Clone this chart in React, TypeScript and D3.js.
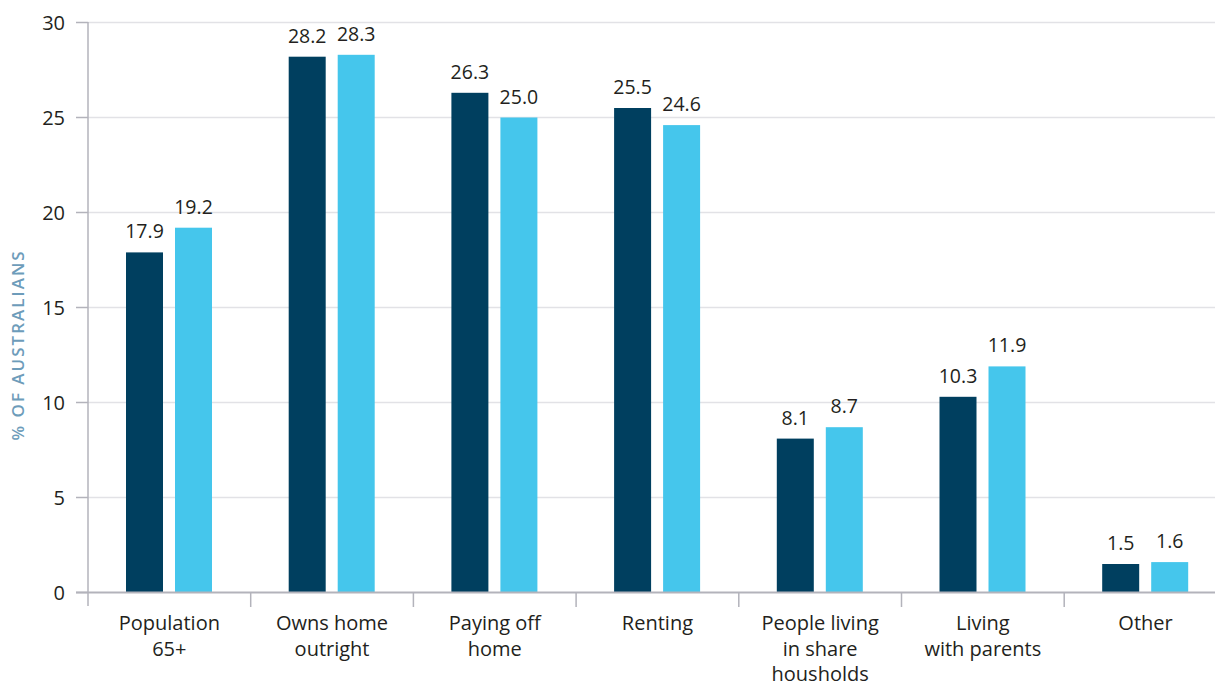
import React from "react";
import * as d3 from "d3";

const categories = [
  ["Population", "65+"],
  ["Owns home", "outright"],
  ["Paying off", "home"],
  ["Renting"],
  ["People living", "in share", "housholds"],
  ["Living", "with parents"],
  ["Other"],
];
const seriesKeys = ["a", "b"];
const seriesA = [17.9, 28.2, 26.3, 25.5, 8.1, 10.3, 1.5];
const seriesB = [19.2, 28.3, 25.0, 24.6, 8.7, 11.9, 1.6];
const yTicks = [0, 5, 10, 15, 20, 25, 30];
const colors = ["#003f5f", "#45c6ec"];

const W = 1215;
const H = 688;
const FONT = "'Open Sans', 'Noto Sans', sans-serif";

export default function App() {
  const left = 88;
  const step = 162.7;
  const x0 = d3
    .scaleBand<number>()
    .domain(categories.map((_, i) => i))
    .range([left, left + step * categories.length])
    .padding(0);
  const x1 = d3
    .scaleBand<string>()
    .domain(seriesKeys)
    .range([38, 124])
    .paddingInner(0.245)
    .paddingOuter(0);
  const y = d3.scaleLinear().domain([0, 30]).range([592.5, 22.5]);
  const series = [seriesA, seriesB];

  return (
    <svg
      width={W}
      height={H}
      style={{ position: "absolute", left: 0, top: 0, display: "block", background: "#fff" }}
      fontFamily={FONT}
    >
      {/* gridlines */}
      {yTicks.filter((t) => t > 0).map((t) => (
        <line key={t} x1={left} x2={W} y1={y(t)} y2={y(t)} stroke="#e2e2e6" strokeWidth={1.5} />
      ))}
      {/* y tick marks and labels */}
      {yTicks.map((t) => (
        <g key={t}>
          <line x1={76} x2={left} y1={y(t)} y2={y(t)} stroke="#b3b3bb" strokeWidth={1.5} />
          <text x={65} y={y(t)} dy="0.35em" textAnchor="end" fontSize={20} fill="#231f20">
            {t}
          </text>
        </g>
      ))}
      {/* bars */}
      {categories.map((_, i) =>
        series.map((s, k) => {
          const bx = (x0(i) as number) + (x1(seriesKeys[k]) as number);
          const bw = x1.bandwidth();
          return (
            <g key={`${i}-${k}`}>
              <rect x={bx} y={y(s[i])} width={bw} height={y(0) - y(s[i])} fill={colors[k]} />
              <text
                x={bx + bw / 2}
                y={y(s[i]) - 14}
                textAnchor="middle"
                fontSize={19.5}
                fill="#231f20"
              >
                {s[i].toFixed(1)}
              </text>
            </g>
          );
        })
      )}
      {/* y axis line */}
      <line x1={left} x2={left} y1={22} y2={606} stroke="#b3b3bb" strokeWidth={1.5} />
      {/* x axis line */}
      <line x1={76} x2={W} y1={y(0)} y2={y(0)} stroke="#b3b3bb" strokeWidth={2} />
      {/* category ticks */}
      {categories.map((_, i) =>
        i === 0 ? null : (
          <line
            key={i}
            x1={x0(i) as number}
            x2={x0(i) as number}
            y1={y(0)}
            y2={607}
            stroke="#b3b3bb"
            strokeWidth={1.5}
          />
        )
      )}
      {/* category labels */}
      {categories.map((lines, i) => (
        <text
          key={i}
          x={(x0(i) as number) + x0.bandwidth() / 2}
          y={630}
          textAnchor="middle"
          fontSize={20}
          fill="#231f20"
        >
          {lines.map((ln, j) => (
            <tspan key={j} x={(x0(i) as number) + x0.bandwidth() / 2} dy={j === 0 ? 0 : 25.5}>
              {ln}
            </tspan>
          ))}
        </text>
      ))}
      {/* y axis title */}
      <text
        transform={`translate(24, 345) rotate(-90)`}
        textAnchor="middle"
        fontSize={17}
        fontWeight={600}
        letterSpacing={2}
        fill="#6d9cba"
      >
        % OF AUSTRALIANS
      </text>
    </svg>
  );
}
